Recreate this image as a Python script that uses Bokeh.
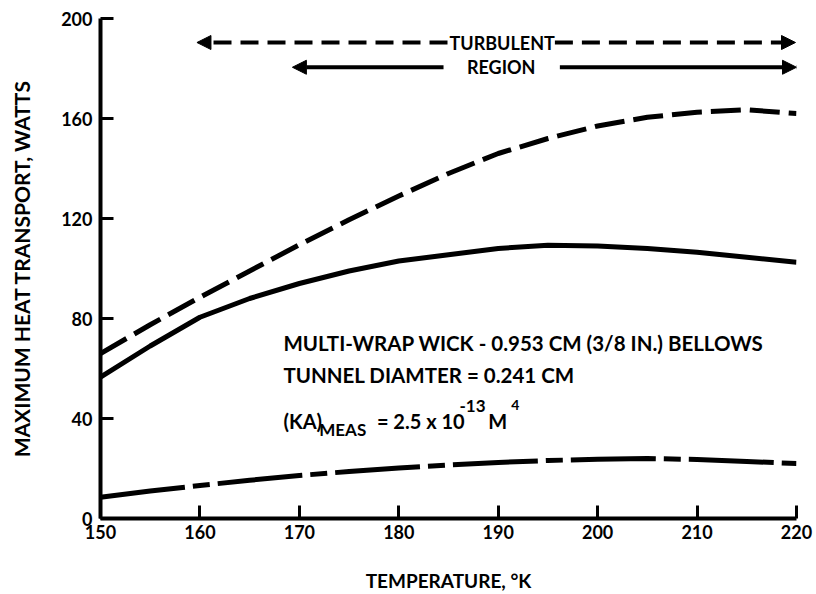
from bokeh.plotting import figure
from bokeh.models import Range1d, Label, Arrow, NormalHead, FixedTicker
from bokeh.core.properties import value
from bokeh.embed import file_html
from bokeh.resources import INLINE

# ---- data ----
temperature_k = [150, 155, 160, 165, 170, 175, 180, 185, 190, 195, 200, 205, 210, 215, 220]
upper_dashed_w = [66, 77.5, 88.5, 99, 109.5, 119.5, 129, 138, 146, 152, 157, 160.5, 162.5, 163.5, 162]
middle_solid_w = [56.5, 69, 80.5, 88, 94, 99, 103, 105.5, 108, 109.3, 109, 108, 106.5, 104.5, 102.5]
lower_dashed_w = [8.5, 11, 13.2, 15.3, 17.2, 18.8, 20.2, 21.4, 22.4, 23.2, 23.7, 24, 23.6, 22.8, 22]

x_ticks = [150, 160, 170, 180, 190, 200, 210, 220]
y_ticks = [0, 40, 80, 120, 160, 200]

turbulent_start_k = 159.7
region_start_k = 169.3
region_end_k = 220

FONT = "Lato"

p = figure(width=816, height=594, output_backend="svg", toolbar_location=None,
           x_range=Range1d(150, 220), y_range=Range1d(0, 200),
           min_border_left=100, min_border_right=20, min_border_top=18, min_border_bottom=74)
p.outline_line_color = None
p.grid.visible = False
p.background_fill_color = "white"
p.border_fill_color = "white"

for ax in (p.xaxis[0], p.yaxis[0]):
    ax.axis_line_width = 4
    ax.axis_line_color = "black"
    ax.major_tick_in = 13
    ax.major_tick_out = 0
    ax.major_tick_line_width = 3
    ax.minor_tick_line_color = None
    ax.major_label_text_font = FONT
    ax.major_label_text_font_style = "bold"
    ax.major_label_text_font_size = "18px"
    ax.major_label_text_color = "black"
    ax.axis_label_text_font = FONT
    ax.axis_label_text_font_style = "bold"
    ax.axis_label_text_color = "black"

p.xaxis.ticker = FixedTicker(ticks=x_ticks)
p.yaxis.ticker = FixedTicker(ticks=y_ticks)
p.xaxis.major_label_standoff = 6
p.yaxis.major_label_standoff = 8
p.xaxis.axis_label = "TEMPERATURE, °K"
p.yaxis.axis_label = "MAXIMUM HEAT TRANSPORT, WATTS"
p.xaxis.axis_label_text_font_size = "19px"
p.yaxis.axis_label_text_font_size = "21px"
p.xaxis.axis_label_standoff = 27
p.yaxis.axis_label_standoff = 24

# curves
p.line(temperature_k, upper_dashed_w, line_color="black", line_width=5, line_dash="30 9")
p.line(temperature_k, middle_solid_w, line_color="black", line_width=5)
p.line(temperature_k, lower_dashed_w, line_color="black", line_width=5, line_dash="85 8 17 8")

# turbulent region arrows
y_turb = 190.4
y_reg = 180.5
head = dict(size=14, fill_color="black", line_color="black")
p.add_layout(Arrow(x_start=184.9, y_start=y_turb, x_end=turbulent_start_k, y_end=y_turb,
                   line_width=4, line_dash="18 9", end=NormalHead(**head)))
p.add_layout(Arrow(x_start=195.7, y_start=y_turb, x_end=region_end_k - 0.1, y_end=y_turb,
                   line_width=4, line_dash="18 9", end=NormalHead(**head)))
p.add_layout(Arrow(x_start=184.5, y_start=y_reg, x_end=region_start_k, y_end=y_reg,
                   line_width=4, end=NormalHead(**head)))
p.add_layout(Arrow(x_start=196.2, y_start=y_reg, x_end=region_end_k, y_end=y_reg,
                   line_width=4, end=NormalHead(**head)))

def lab(x, y, text, size="20px", align="left"):
    p.add_layout(Label(x=x, y=y, text=text, text_font=FONT, text_font_style="bold",
                       text_font_size=size, text_color="black", text_align=align,
                       text_baseline="middle"))

lab(190.4, y_turb, "TURBULENT", size="18px", align="center")
lab(190.3, y_reg, "REGION", size="18px", align="center")

lab(168.4, 70.1, "MULTI-WRAP WICK - 0.953 CM (3/8 IN.) BELLOWS", size="20.5px")
lab(168.4, 57.4, "TUNNEL DIAMTER = 0.241 CM", size="20.5px")
lab(168.4, 39.0, "(KA)")
lab(172.0, 35.6, "MEAS", size="17px")
lab(177.8, 39.0, "= 2.5 x 10")
lab(186.1, 45.0, "-13", size="17px")
lab(189.0, 39.0, "M")
lab(191.3, 45.5, "4", size="14px")

open("out.html", "w").write(file_html(p, INLINE))
